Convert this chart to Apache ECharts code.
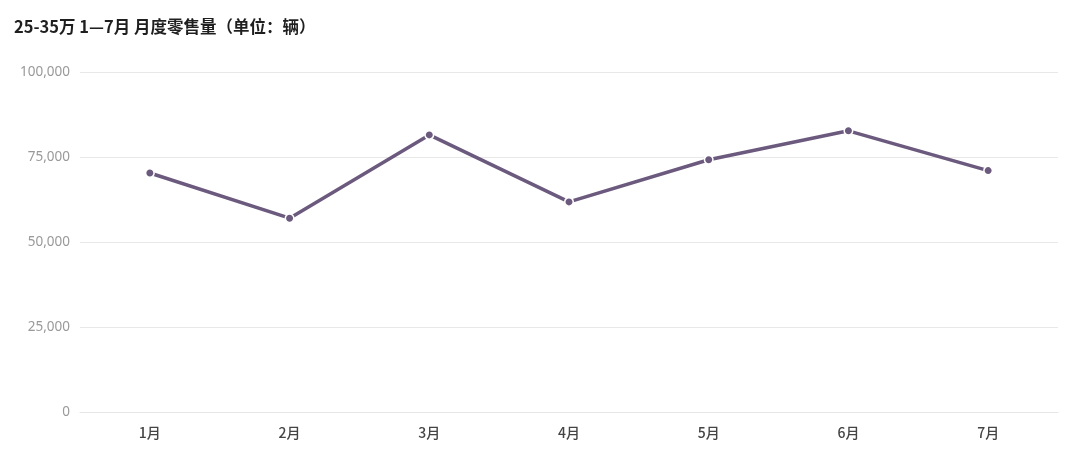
<!DOCTYPE html>
<html><head><meta charset="utf-8">
<script src="https://cdn.jsdelivr.net/npm/echarts@6/dist/echarts.min.js"></script>
<style>html,body{margin:0;padding:0;background:#fff}#c{width:1080px;height:461px}</style>
</head><body><div id="c"></div>
<script>
var categories = ['1月','2月','3月','4月','5月','6月','7月'];
var sales = [70300, 57000, 81500, 61800, 74200, 82700, 71000];
var yTicks = [0, 25000, 50000, 75000, 100000];

var chart = echarts.init(document.getElementById('c'));
chart.setOption({
  animation: false,
  backgroundColor: '#fff',
  title: {
    text: '25-35万 1—7月 月度零售量（单位：辆）',
    left: 9, top: 13,
    textStyle: {fontFamily: 'Noto Sans CJK SC', fontSize: 16.5, fontWeight: 'bold', color: '#1f1f1f'}
  },
  grid: {left: 80, right: 22, top: 72, bottom: 49},
  xAxis: {
    type: 'category', data: categories, boundaryGap: true,
    axisLine: {lineStyle: {color: '#e6e6e6'}},
    axisTick: {show: false},
    axisLabel: {color: '#444', fontSize: 14, fontWeight: 500, margin: 14, fontFamily: 'Noto Sans CJK SC'}
  },
  yAxis: {
    type: 'value', min: yTicks[0], max: yTicks[yTicks.length-1], interval: 25000,
    axisLine: {show: false}, axisTick: {show: false},
    splitLine: {lineStyle: {color: '#e8e8e8'}},
    axisLabel: {color: '#999', fontSize: 13.5, margin: 10, fontFamily: 'Noto Sans',
      formatter: function(v){ return v.toLocaleString('en-US'); }}
  },
  series: [{
    type: 'line', data: sales,
    symbol: 'circle', symbolSize: 8.5,
    lineStyle: {color: '#6b5a7e', width: 3.5},
    itemStyle: {color: '#6b5a7e', borderColor: '#fff', borderWidth: 1.5}
  }]
});
</script></body></html>
